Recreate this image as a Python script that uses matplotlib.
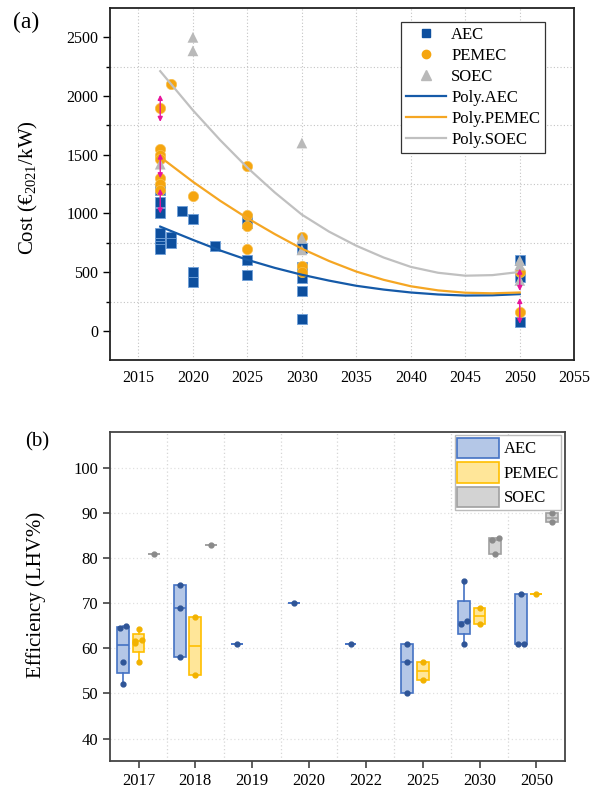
import numpy as np
import matplotlib.pyplot as plt
from matplotlib.patches import Patch
from matplotlib.lines import Line2D
from matplotlib.ticker import MultipleLocator, FixedLocator

plt.rcParams['font.family'] = ['Liberation Serif', 'DejaVu Serif']
plt.rcParams['mathtext.fontset'] = 'custom'
plt.rcParams['mathtext.rm'] = 'Liberation Serif'
plt.rcParams['mathtext.it'] = 'Liberation Serif:italic'

# ---- panel (a): cost data ----
aec_x = [2017, 2017, 2017, 2017, 2017, 2017, 2017, 2018, 2018, 2019, 2020, 2020, 2020,
         2022, 2025, 2025, 2025, 2025, 2030, 2030, 2030, 2030, 2030, 2050, 2050, 2050]
aec_y = [1200, 1100, 1000, 830, 750, 720, 700, 800, 750, 1020, 950, 500, 420,
         720, 950, 920, 600, 480, 710, 540, 450, 340, 100, 600, 460, 75]
pemec_x = [2017, 2017, 2017, 2017, 2017, 2017, 2017, 2018, 2020,
           2025, 2025, 2025, 2025, 2030, 2030, 2030, 2050, 2050]
pemec_y = [1900, 1550, 1500, 1460, 1300, 1250, 1200, 2100, 1150,
           1400, 990, 890, 700, 800, 550, 500, 500, 165]
soec_x = [2017, 2020, 2020, 2030, 2030, 2030, 2050, 2050, 2050]
soec_y = [1420, 2500, 2385, 1600, 790, 690, 600, 560, 430]

# polynomial trend lines
fit_years = [2017, 2020, 2022.5, 2025, 2027.5, 2030, 2032.5, 2035, 2037.5,
             2040, 2042.5, 2045, 2047.5, 2050]
fit_aec = [888, 775, 685, 605, 537, 478, 428, 384, 352, 327, 310, 301, 303, 313]
fit_pemec = [1481, 1270, 1108, 960, 825, 700, 595, 505, 435, 380, 345, 325, 320, 327]
fit_soec = [2212, 1879, 1625, 1390, 1180, 990, 845, 725, 625, 545, 495, 470, 475, 502]

# magenta ranges (year, low, high)
range_x = [2017, 2017, 2017, 2050, 2050]
range_lo = [1780, 1300, 1000, 340, 60]
range_hi = [2010, 1510, 1210, 530, 280]

# ---- panel (b): efficiency data ----
categories = ['2017', '2018', '2019', '2020', '2022', '2025', '2030', '2050']
aec_eff = [[52, 57, 64.5, 65], [58, 69, 74], [61], [70], [61], [50, 57, 61],
           [61, 65.5, 66, 75], [61, 61, 72]]
pemec_eff = [[57, 61.2, 61.6, 61.9, 64.3], [54, 67], [], [], [], [53, 57],
             [65.5, 69], [72]]
soec_eff = [[81], [83], [], [], [], [], [81, 84, 84.5], [88, 90]]

blue, orange, gray = '#0d4f9e', '#f5a50f', '#b9b9b9'

fig = plt.figure(figsize=(5.92, 7.97), dpi=100)
ax1 = fig.add_axes([0.186, 0.548, 0.784, 0.442])
ax2 = fig.add_axes([0.186, 0.045, 0.768, 0.413])

# ---------------- (a) ----------------
ax1.scatter(aec_x, aec_y, marker='s', s=50, color=blue, edgecolors='#6fa0d8',
            linewidths=0.6, zorder=3)
ax1.scatter(pemec_x, pemec_y, marker='o', s=55, color=orange, edgecolors='#f8c050',
            linewidths=0.5, zorder=3)
ax1.scatter(soec_x, soec_y, marker='^', s=60, color=gray, edgecolors='none', zorder=3)
ax1.plot(fit_years, fit_aec, color='#155aa8', lw=1.6, zorder=4)
ax1.plot(fit_years, fit_pemec, color='#f5a623', lw=1.6, zorder=4)
ax1.plot(fit_years, fit_soec, color='#c0c0c0', lw=1.6, zorder=4)
for x, lo, hi in zip(range_x, range_lo, range_hi):
    ax1.annotate('', xy=(x, hi), xytext=(x, lo),
                 arrowprops=dict(arrowstyle='<|-|>', color='#e8149c', lw=1.0,
                                 mutation_scale=7, shrinkA=0, shrinkB=0), zorder=5)

ax1.set_xlim(2012.4, 2055)
ax1.set_ylim(-250, 2750)
ax1.xaxis.set_major_locator(MultipleLocator(5))
ax1.yaxis.set_major_locator(FixedLocator([0, 500, 1000, 1500, 2000, 2500]))
ax1.yaxis.set_minor_locator(FixedLocator([250, 750, 1250, 1750, 2250]))
ax1.tick_params(axis='y', which='major', direction='out', length=5, width=1, labelsize=11.5)
ax1.tick_params(axis='y', which='minor', direction='out', length=3, width=1)
ax1.tick_params(axis='x', which='major', length=0, labelsize=11.5, pad=7)
ax1.grid(axis='x', which='major', color='#c4c4c4', lw=0.8, ls=(0, (1, 2)))
ax1.grid(axis='y', which='minor', color='#c4c4c4', lw=0.8, ls=(0, (1, 2)))
for sp in ax1.spines.values():
    sp.set_linewidth(1.3)
    sp.set_color('#222222')
ax1.set_ylabel('Cost (€$_{2021}$/kW)', fontsize=15)
ax1.yaxis.set_label_coords(-0.15, 0.49)

handles = [Line2D([], [], marker='s', ls='none', color=blue, markersize=6),
           Line2D([], [], marker='o', ls='none', color=orange, markersize=6),
           Line2D([], [], marker='^', ls='none', color=gray, markersize=7),
           Line2D([], [], color='#155aa8', lw=1.6),
           Line2D([], [], color='#f5a623', lw=1.6),
           Line2D([], [], color='#c0c0c0', lw=1.6)]
labels = ['AEC', 'PEMEC', 'SOEC', 'Poly.AEC', 'Poly.PEMEC', 'Poly.SOEC']
leg = ax1.legend(handles, labels, loc='upper right', bbox_to_anchor=(0.955, 0.985),
                 fontsize=12, labelspacing=0.3, handlelength=2.4, handletextpad=0.3,
                 borderpad=0.3, fancybox=False, framealpha=1, edgecolor='#333333')
leg.get_frame().set_linewidth(0.9)
fig.text(0.044, 0.972, '(a)', fontsize=17, ha='center', va='center')

# ---------------- (b) ----------------
def hinges(vals):
    v = sorted(vals)
    n = len(v)
    med = float(np.median(v))
    if n < 2:
        return med, med, med
    half = n // 2
    return float(np.median(v[:half])), med, float(np.median(v[-half:]))

styles = [(aec_eff, -0.27, '#b4c7e7', '#4472c4', '#2f5597'),
          (pemec_eff, 0.0, '#ffe699', '#ffbf00', '#f2b200'),
          (soec_eff, 0.28, '#d3d3d3', '#a0a0a0', '#8a8a8a')]
for data, off, face, edge, dot in styles:
    stats, pos = [], []
    for i, vals in enumerate(data):
        if not vals:
            continue
        q1, med, q3 = hinges(vals)
        stats.append(dict(med=med, q1=q1, q3=q3, whislo=min(vals),
                          whishi=max(vals), fliers=[]))
        pos.append(i + off)
    ax2.bxp(stats, positions=pos, widths=0.21, patch_artist=True, showcaps=False,
            boxprops=dict(facecolor=face, edgecolor=edge, lw=1.2),
            medianprops=dict(color=edge, lw=1.2),
            whiskerprops=dict(color=edge, lw=1.2), manage_ticks=False, zorder=3)
    for i, vals in enumerate(data):
        v = sorted(vals)
        xs = [i + off] * len(v)
        for k in range(1, len(v)):
            if abs(v[k] - v[k - 1]) < 1.0:
                xs[k - 1] = i + off - 0.055
                xs[k] = i + off + 0.055
        ax2.plot(xs, v, 'o', color=dot, markersize=3.5, zorder=4)

ax2.set_xlim(-0.5, 7.5)
ax2.set_ylim(35, 108)
ax2.set_xticks(range(len(categories)))
ax2.set_xticklabels(categories)
ax2.set_yticks(range(40, 101, 10))
ax2.set_xticks(np.arange(0.5, 7.5, 1), minor=True)
ax2.tick_params(axis='both', which='major', direction='out', length=5, width=1.1,
                labelsize=12, color='#333333')
ax2.tick_params(axis='x', which='minor', length=0)
ax2.grid(axis='x', which='minor', color='#d6d6d6', lw=0.9, ls=(0, (1, 2)))
ax2.grid(axis='y', which='major', color='#e0e0e0', lw=0.9, ls=(0, (1, 2)))
ax2.set_axisbelow(True)
for sp in ax2.spines.values():
    sp.set_linewidth(1.3)
    sp.set_color('#444444')
ax2.set_ylabel('Efficiency (LHV%)', fontsize=15)
ax2.yaxis.set_label_coords(-0.14, 0.505)

bhandles = [Patch(facecolor='#b4c7e7', edgecolor='#4472c4', lw=1.2),
            Patch(facecolor='#ffe699', edgecolor='#ffbf00', lw=1.2),
            Patch(facecolor='#d3d3d3', edgecolor='#a0a0a0', lw=1.2)]
leg2 = ax2.legend(bhandles, ['AEC', 'PEMEC', 'SOEC'], loc='upper right',
                  bbox_to_anchor=(1.0, 1.0), fontsize=12, handlelength=2.5,
                  handleheight=1.5, labelspacing=0.25, handletextpad=0.3,
                  borderpad=0.15, borderaxespad=0.2, fancybox=False, framealpha=1,
                  edgecolor='#bbbbbb')
fig.text(0.063, 0.446, '(b)', fontsize=15, ha='center', va='center')

fig.savefig('out.png', dpi=100)
